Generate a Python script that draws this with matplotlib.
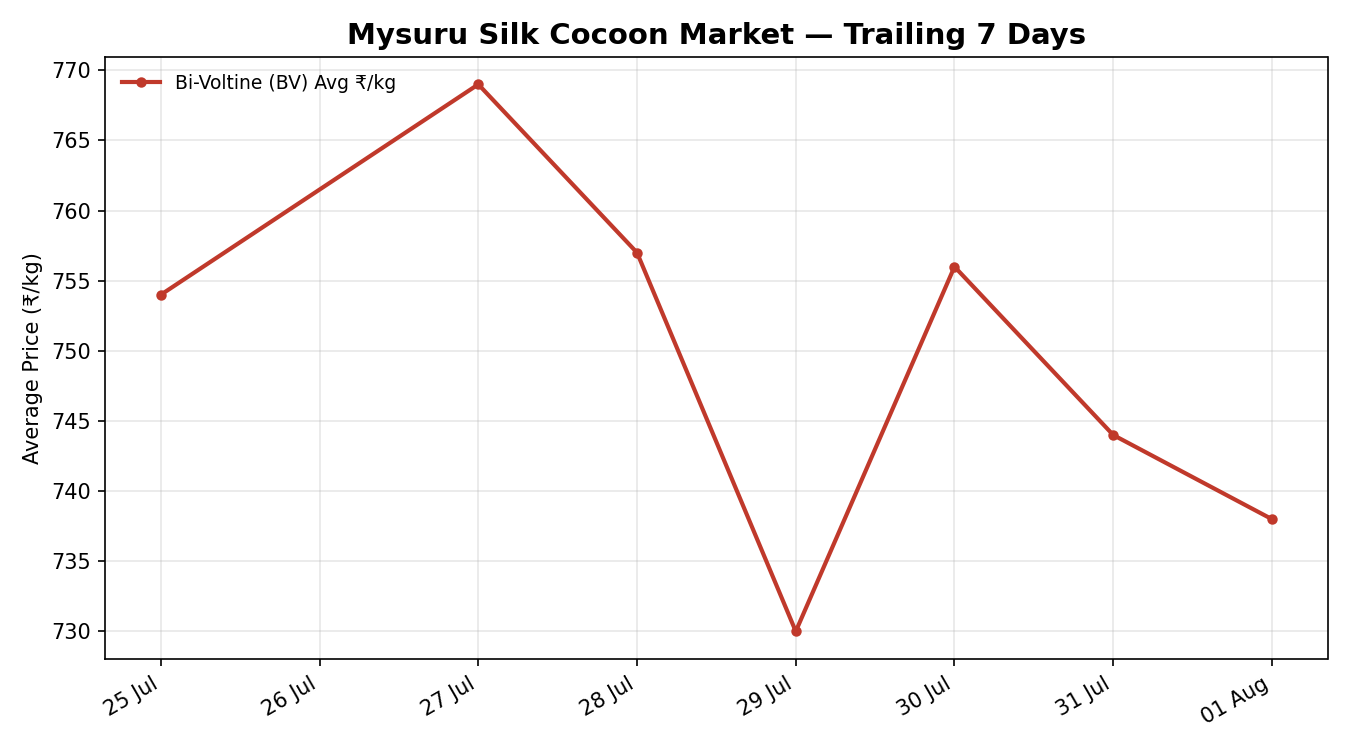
import pandas as pd
import matplotlib
matplotlib.use("Agg")
import matplotlib.pyplot as plt
import matplotlib.dates as mdates

# daily average bivoltine cocoon price (26 Jul has no market data)
dates = ["2024-07-25", "2024-07-27", "2024-07-28", "2024-07-29",
         "2024-07-30", "2024-07-31", "2024-08-01"]
bv_prices = [754, 769, 757, 730, 756, 744, 738]

days = pd.to_datetime(dates)

fig, ax = plt.subplots(figsize=(9, 5), dpi=150)
ax.plot(days, bv_prices, color="#c0392b", linewidth=2, marker="o",
        markersize=4, label="Bi-Voltine (BV) Avg ₹/kg")

ax.set_title("Mysuru Silk Cocoon Market — Trailing 7 Days",
             fontsize=14, fontweight="bold")
ax.set_ylabel("Average Price (₹/kg)")
ax.grid(True, alpha=0.3)
ax.xaxis.set_major_locator(mdates.DayLocator())
ax.xaxis.set_major_formatter(mdates.DateFormatter("%d %b"))
ax.legend(loc="upper left", frameon=False, fontsize=9)
fig.autofmt_xdate()
fig.tight_layout()
fig.savefig("out.png")
